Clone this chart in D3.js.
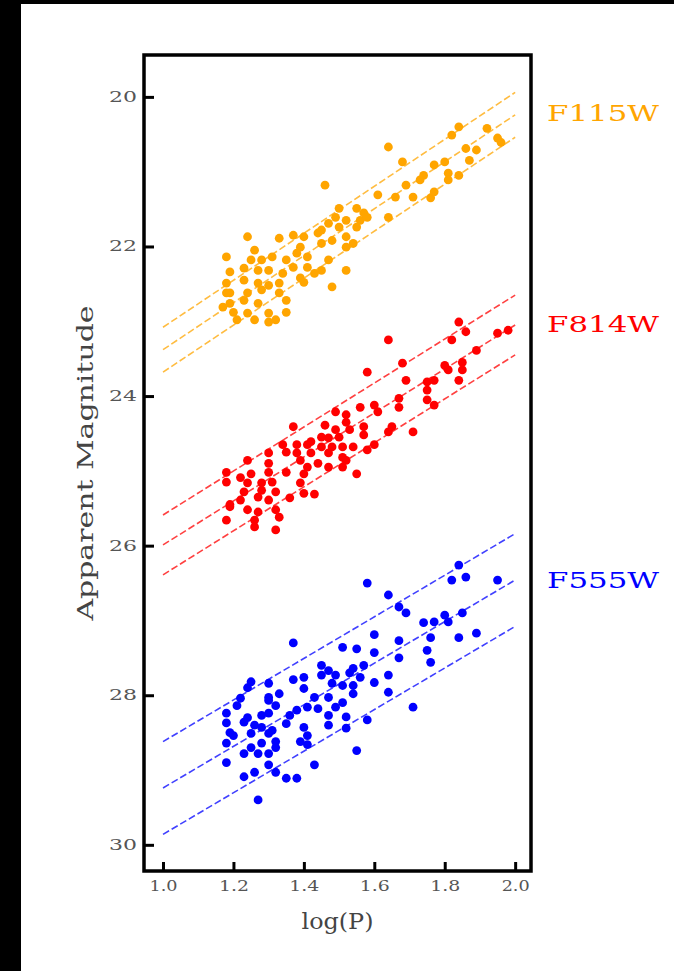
<!DOCTYPE html>
<html>
<head>
<meta charset="utf-8">
<script src="https://cdn.jsdelivr.net/npm/d3@7"></script>
<style>
    body { margin: 0; background: #000; }
    svg { display: block; }
</style>
</head>
<body>
<svg id="chart"></svg>
<script>
const bands = ["F115W", "F814W", "F555W"]
const bandColours = ["#ffa500", "#ff0000", "#0000ff"]
// period-luminosity fits: magnitude at logP = 1, slope per dex, half width of the strip
const fitZero = [23.38, 25.99, 29.24]
const fitSlope = [-3.14, -2.94, -2.78]
const fitWidth = [0.30, 0.40, 0.62]
const fitRange = [1.0, 2.0]

const xTicks = [1.0, 1.2, 1.4, 1.6, 1.8, 2.0]
const yTicks = [20, 22, 24, 26, 28, 30]

// [logP, apparent magnitude]
const f115w = [
    [1.84,20.40],[1.82,20.51],[1.64,20.67],[1.68,20.87],[1.77,20.91],[1.80,20.87],[1.74,21.05],[1.73,21.11],
    [1.81,21.02],[1.81,21.11],[1.84,21.05],[1.86,20.69],[1.89,20.71],[1.96,20.61],[1.46,21.18],[1.69,21.18],
    [1.61,21.31],[1.66,21.34],[1.71,21.34],[1.76,21.35],[1.77,21.27],[1.64,21.61],[1.50,21.49],[1.55,21.49],
    [1.57,21.55],[1.49,21.61],[1.52,21.65],[1.56,21.65],[1.58,21.61],[1.47,21.69],[1.45,21.78],[1.50,21.74],
    [1.55,21.74],[1.52,21.87],[1.54,21.96],[1.52,22.01],[1.48,21.92],[1.45,21.96],[1.44,21.82],[1.40,21.87],
    [1.37,21.85],[1.39,22.01],[1.41,22.14],[1.38,22.09],[1.33,21.89],[1.24,21.87],[1.26,22.05],[1.18,22.14],
    [1.25,22.18],[1.28,22.18],[1.31,22.14],[1.35,22.18],[1.37,22.28],[1.41,22.28],[1.45,22.32],[1.47,22.18],
    [1.19,22.34],[1.23,22.29],[1.27,22.32],[1.30,22.32],[1.34,22.36],[1.39,22.42],[1.43,22.36],[1.40,22.48],
    [1.52,22.32],[1.48,22.54],[1.18,22.49],[1.23,22.45],[1.27,22.49],[1.30,22.52],[1.33,22.49],[1.19,22.62],
    [1.24,22.62],[1.28,22.58],[1.33,22.62],[1.19,22.76],[1.23,22.72],[1.27,22.76],[1.35,22.72],[1.20,22.88],
    [1.24,22.89],[1.30,22.89],[1.35,22.88],[1.26,22.98],[1.30,23.01],[1.32,22.98],[1.21,22.98],[1.17,22.81],
    [1.18,22.62],[1.95,20.55],[1.92,20.42],[1.87,20.85]
]

const f814w = [
    [1.84,23.01],[1.86,23.14],[1.64,23.25],[1.82,23.25],[1.95,23.16],[1.98,23.12],[1.89,23.39],[1.68,23.56],
    [1.80,23.59],[1.81,23.65],[1.85,23.55],[1.85,23.65],[1.58,23.68],[1.69,23.79],[1.75,23.81],[1.77,23.79],
    [1.84,23.79],[1.75,23.92],[1.67,24.03],[1.67,24.15],[1.75,24.05],[1.77,24.12],[1.56,24.15],[1.60,24.12],
    [1.61,24.21],[1.49,24.21],[1.52,24.25],[1.52,24.35],[1.65,24.41],[1.64,24.48],[1.71,24.48],[1.57,24.41],
    [1.57,24.52],[1.46,24.39],[1.49,24.45],[1.53,24.45],[1.37,24.41],[1.45,24.55],[1.47,24.56],[1.50,24.55],
    [1.42,24.61],[1.60,24.65],[1.58,24.72],[1.34,24.65],[1.38,24.65],[1.41,24.65],[1.45,24.68],[1.48,24.68],
    [1.51,24.68],[1.54,24.68],[1.35,24.75],[1.38,24.76],[1.42,24.76],[1.47,24.76],[1.51,24.82],[1.30,24.76],
    [1.24,24.86],[1.30,24.90],[1.39,24.86],[1.44,24.90],[1.52,24.86],[1.41,24.95],[1.47,24.95],[1.51,24.95],
    [1.55,25.04],[1.18,25.02],[1.25,25.04],[1.30,25.02],[1.35,25.02],[1.40,25.04],[1.18,25.15],[1.24,25.16],
    [1.28,25.16],[1.31,25.15],[1.39,25.16],[1.23,25.28],[1.28,25.26],[1.32,25.28],[1.40,25.30],[1.43,25.31],
    [1.22,25.39],[1.27,25.35],[1.30,25.39],[1.36,25.36],[1.19,25.48],[1.24,25.52],[1.27,25.55],[1.32,25.52],
    [1.18,25.66],[1.26,25.66],[1.33,25.62],[1.26,25.75],[1.32,25.79],[1.22,25.09],[1.19,25.45]
]

const f555w = [
    [1.84,26.26],[1.58,26.50],[1.82,26.46],[1.86,26.42],[1.95,26.46],[1.64,26.66],[1.67,26.82],[1.69,26.90],
    [1.80,26.93],[1.81,27.02],[1.85,26.90],[1.74,27.03],[1.77,27.02],[1.89,27.17],[1.84,27.23],[1.76,27.23],
    [1.60,27.19],[1.67,27.27],[1.37,27.30],[1.75,27.40],[1.60,27.43],[1.67,27.50],[1.51,27.36],[1.55,27.38],
    [1.76,27.56],[1.45,27.60],[1.47,27.67],[1.54,27.64],[1.57,27.60],[1.45,27.73],[1.49,27.73],[1.53,27.70],
    [1.56,27.76],[1.64,27.73],[1.60,27.83],[1.40,27.76],[1.37,27.79],[1.25,27.82],[1.30,27.84],[1.48,27.84],
    [1.51,27.87],[1.54,27.87],[1.40,27.91],[1.24,27.90],[1.64,27.96],[1.54,27.98],[1.33,27.98],[1.30,28.03],
    [1.43,28.03],[1.47,28.03],[1.22,28.04],[1.21,28.14],[1.30,28.07],[1.32,28.14],[1.51,28.10],[1.49,28.16],
    [1.41,28.16],[1.44,28.18],[1.71,28.16],[1.38,28.20],[1.36,28.27],[1.18,28.24],[1.18,28.37],[1.28,28.27],
    [1.30,28.24],[1.47,28.27],[1.52,28.29],[1.58,28.33],[1.23,28.36],[1.26,28.40],[1.28,28.43],[1.35,28.38],
    [1.47,28.40],[1.52,28.44],[1.19,28.50],[1.20,28.54],[1.25,28.51],[1.30,28.51],[1.31,28.47],[1.40,28.43],
    [1.41,28.54],[1.39,28.62],[1.18,28.64],[1.25,28.70],[1.28,28.64],[1.32,28.62],[1.41,28.66],[1.23,28.78],
    [1.27,28.78],[1.30,28.78],[1.32,28.70],[1.55,28.74],[1.18,28.90],[1.30,28.93],[1.32,29.03],[1.43,28.93],
    [1.26,29.03],[1.23,29.09],[1.35,29.11],[1.38,29.11],[1.27,29.40],[1.24,28.30]
]
const bandPoints = [f115w, f814w, f555w]

const width = 674, height = 971
const frame = {left: 144, top: 55, right: 531, bottom: 871}
const serif = "'DejaVu Serif', 'Liberation Serif', serif"

const svg = d3.select('#chart')
    .attr('width', width)
    .attr('height', height)

svg.append('rect').attr('width', width).attr('height', height).attr('fill', '#000')
svg.append('rect')
    .attr('x', 21).attr('y', 4)
    .attr('width', width - 21).attr('height', height - 4)
    .attr('fill', '#fff')

const x = d3.scaleLinear()
    .domain([0.946, 2.045])
    .range([frame.left, frame.right])

const y = d3.scaleLinear()
    .domain([19.44, 30.35])
    .range([frame.top, frame.bottom])

const chart = svg.append('g')

// fit lines
const line = d3.line().x((d) => x(d[0])).y((d) => y(d[1]))
bands.forEach((b, k) => {
    [-1, 0, 1].forEach((o) => {
        const seg = fitRange.map((p) => [p, fitZero[k] + fitSlope[k] * (p - 1) + o * fitWidth[k]])
        chart.append('path')
            .attr('class', 'fit')
            .attr('d', line(seg))
            .style('fill', 'none')
            .style('stroke', bandColours[k])
            .style('stroke-width', 1.6)
            .style('stroke-dasharray', '7,3')
            .style('opacity', 0.75)
    })
})

// points
bands.forEach((b, k) => {
    chart.selectAll(`.pt_${b}`)
        .data(bandPoints[k])
        .enter().append('circle')
        .attr('class', `pt_${b}`)
        .attr('cx', (d) => x(d[0]))
        .attr('cy', (d) => y(d[1]))
        .attr('r', 4.4)
        .style('fill', bandColours[k])
})

// axes
const yAxis = svg.append('g')
    .attr('transform', `translate(${frame.left},0)`)
    .call(d3.axisLeft(y).tickValues(yTicks).tickSize(-10).tickPadding(9).tickFormat(d3.format('d')))
const xAxis = svg.append('g')
    .attr('transform', `translate(0,${frame.bottom})`)
    .call(d3.axisBottom(x).tickValues(xTicks).tickSize(-9).tickPadding(10).tickFormat(d3.format('.1f')))

;[yAxis, xAxis].forEach((a) => {
    a.select('.domain').remove()
    a.selectAll('.tick line').attr('stroke', '#000').attr('stroke-width', 3)
    a.selectAll('.tick text')
        .style('font-family', serif)
        .style('font-size', '14px')
        .attr('fill', '#555')
        .attr('textLength', (d) => String(d).length > 2 ? 30 : 28)
        .attr('lengthAdjust', 'spacingAndGlyphs')
})
yAxis.selectAll('.tick text').attr('x', -7)

svg.append('rect')
    .attr('x', frame.left).attr('y', frame.top)
    .attr('width', frame.right - frame.left).attr('height', frame.bottom - frame.top)
    .style('fill', 'none')
    .style('stroke', '#000')
    .style('stroke-width', 3.5)

// labels
svg.append('text')
    .attr('transform', `translate(93,${(frame.top + frame.bottom) / 2}) rotate(-90)`)
    .attr('text-anchor', 'middle')
    .attr('textLength', 315)
    .attr('lengthAdjust', 'spacingAndGlyphs')
    .style('font-family', serif)
    .style('font-size', '22px')
    .style('fill', '#444')
    .text('Apparent Magnitude')

svg.append('text')
    .attr('x', (frame.left + frame.right) / 2)
    .attr('y', 929)
    .attr('text-anchor', 'middle')
    .attr('textLength', 72)
    .attr('lengthAdjust', 'spacingAndGlyphs')
    .style('font-family', serif)
    .style('font-size', '22px')
    .style('fill', '#444')
    .text('log(P)')

const legendY = [121, 332, 588]
bands.forEach((b, k) => {
    svg.append('text')
        .attr('x', 547)
        .attr('y', legendY[k])
        .attr('textLength', 112)
        .attr('lengthAdjust', 'spacingAndGlyphs')
        .style('font-family', serif)
        .style('font-size', '22px')
        .style('fill', bandColours[k])
        .text(b)
})
</script>
</body>
</html>
